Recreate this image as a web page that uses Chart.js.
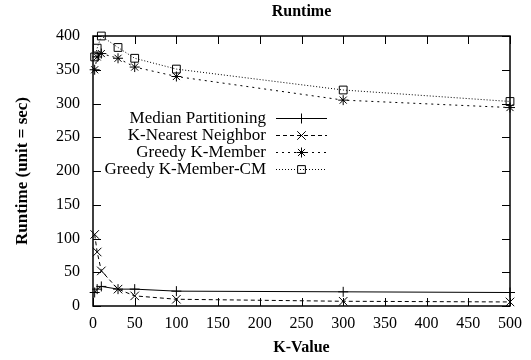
<!DOCTYPE html>
<html>
<head>
<meta charset="utf-8">
<script src="https://cdn.jsdelivr.net/npm/chart.js@4.4.1/dist/chart.umd.min.js"></script>
<style>
  html, body { margin: 0; padding: 0; background: #fff; }
  #wrap { width: 531px; height: 360px; }
</style>
</head>
<body>
<div id="wrap"><canvas id="runtimeChart"></canvas></div>
<script>
// values
const kValues = [2, 5, 10, 30, 50, 100, 300, 500];
const medianPartitioning = [20, 25, 29, 25, 25, 22, 21, 20];
const kNearestNeighbor = [106, 80, 52, 25, 15, 10, 7, 6];
const greedyKMember = [350, 369, 374, 367, 354, 340, 305, 294];
const greedyKMemberCM = [369, 382, 400, 383, 367, 351, 320, 303];

const seriesNames = ['Median Partitioning', 'K-Nearest Neighbor', 'Greedy K-Member', 'Greedy K-Member-CM'];
const xTicks = [0, 50, 100, 150, 200, 250, 300, 350, 400, 450, 500];
const yTicks = [0, 50, 100, 150, 200, 250, 300, 350, 400];

const serif = '"Liberation Serif", "Times New Roman", serif';

function toPoints(values) {
    return kValues.map((k, i) => ({ x: k, y: values[i] }));
}

function makeSet(label, values, pointStyle, radius, dash) {
    return {
        label: label,
        data: toPoints(values),
        borderColor: '#000',
        borderWidth: 1,
        borderDash: dash,
        pointStyle: pointStyle,
        pointRadius: radius,
        pointBorderColor: '#000',
        pointBackgroundColor: 'rgba(0,0,0,0)',
        pointBorderWidth: 1,
        tension: 0,
        clip: false
    };
}

// gnuplot style frame with inward ticks on all four sides
const framePlugin = {
    id: 'frame',
    beforeDatasetsDraw(chart) {
        const { ctx, chartArea: a, scales } = chart;
        const len = 8;
        ctx.save();
        ctx.strokeStyle = '#000';
        ctx.lineWidth = 1.5;
        ctx.strokeRect(a.left, a.top, a.right - a.left, a.bottom - a.top);
        ctx.lineWidth = 1;
        ctx.beginPath();
        xTicks.forEach(v => {
            const px = Math.round(scales.x.getPixelForValue(v)) + 0.5;
            ctx.moveTo(px, a.bottom); ctx.lineTo(px, a.bottom - len);
            ctx.moveTo(px, a.top); ctx.lineTo(px, a.top + len);
        });
        yTicks.forEach(v => {
            const py = Math.round(scales.y.getPixelForValue(v)) + 0.5;
            ctx.moveTo(a.left, py); ctx.lineTo(a.left + len, py);
            ctx.moveTo(a.right, py); ctx.lineTo(a.right - len, py);
        });
        ctx.stroke();
        ctx.restore();
    }
};

// legend inside the plot, text right aligned with a line sample
const keyPlugin = {
    id: 'key',
    afterDatasetsDraw(chart) {
        const ctx = chart.ctx;
        const textRight = 266, lineStart = 276, lineEnd = 327, rowTop = 118, rowGap = 17;
        ctx.save();
        ctx.font = '17px ' + serif;
        ctx.fillStyle = '#000';
        ctx.textAlign = 'right';
        ctx.textBaseline = 'middle';
        chart.data.datasets.forEach((ds, i) => {
            const y = rowTop + i * rowGap;
            ctx.fillText(ds.label, textRight, y + 1);
            ctx.strokeStyle = '#000';
            ctx.lineWidth = 1;
            ctx.setLineDash(ds.borderDash || []);
            ctx.beginPath();
            ctx.moveTo(lineStart, y + 0.5);
            ctx.lineTo(lineEnd, y + 0.5);
            ctx.stroke();
            ctx.setLineDash([]);
            ctx.fillStyle = 'rgba(0,0,0,0)';
            Chart.helpers.drawPoint(ctx, {
                pointStyle: ds.pointStyle, radius: ds.pointRadius, borderWidth: 1, rotation: 0
            }, (lineStart + lineEnd) / 2, y + 0.5);
            ctx.fillStyle = '#000';
        });
        ctx.restore();
    }
};

const ctx = document.getElementById('runtimeChart').getContext('2d');

new Chart(ctx, {
    type: 'line',
    data: {
        datasets: [
            makeSet(seriesNames[0], medianPartitioning, 'cross', 5, []),
            makeSet(seriesNames[1], kNearestNeighbor, 'crossRot', 6, [4, 3]),
            makeSet(seriesNames[2], greedyKMember, 'star', 5, [2, 4]),
            makeSet(seriesNames[3], greedyKMemberCM, 'rect', 5.5, [1, 2])
        ]
    },
    options: {
        responsive: true,
        maintainAspectRatio: false,
        animation: false,
        devicePixelRatio: 1,
        layout: { padding: { left: 0, right: 21, top: 0, bottom: 0 } },
        plugins: {
            legend: { display: false },
            tooltip: { enabled: false },
            title: {
                display: true,
                fullSize: false,
                text: 'Runtime',
                color: '#000',
                font: { family: serif, size: 16, weight: 'bold' },
                padding: { top: 2.4, bottom: 14.4 }
            }
        },
        scales: {
            x: {
                type: 'linear',
                min: 0,
                max: 500,
                grid: { display: false, drawTicks: false },
                border: { display: false },
                ticks: {
                    stepSize: 50,
                    autoSkip: false,
                    maxRotation: 0,
                    padding: 8,
                    color: '#000',
                    font: { family: serif, size: 16 }
                },
                title: {
                    display: true,
                    text: 'K-Value',
                    color: '#000',
                    font: { family: serif, size: 16, weight: 'bold' },
                    padding: { top: 0, bottom: 2.4 }
                },
                afterFit(scale) { scale.height = 54; }
            },
            y: {
                min: 0,
                max: 400,
                grid: { display: false, drawTicks: false },
                border: { display: false },
                ticks: {
                    stepSize: 50,
                    padding: 13,
                    color: '#000',
                    font: { family: serif, size: 16 }
                },
                title: {
                    display: true,
                    text: 'Runtime (unit = sec)',
                    color: '#000',
                    font: { family: serif, size: 17, weight: 'bold' },
                    padding: { top: 12, bottom: 0 }
                },
                afterFit(scale) { scale.width = 93; }
            }
        }
    },
    plugins: [framePlugin, keyPlugin]
});
</script>
</body>
</html>
